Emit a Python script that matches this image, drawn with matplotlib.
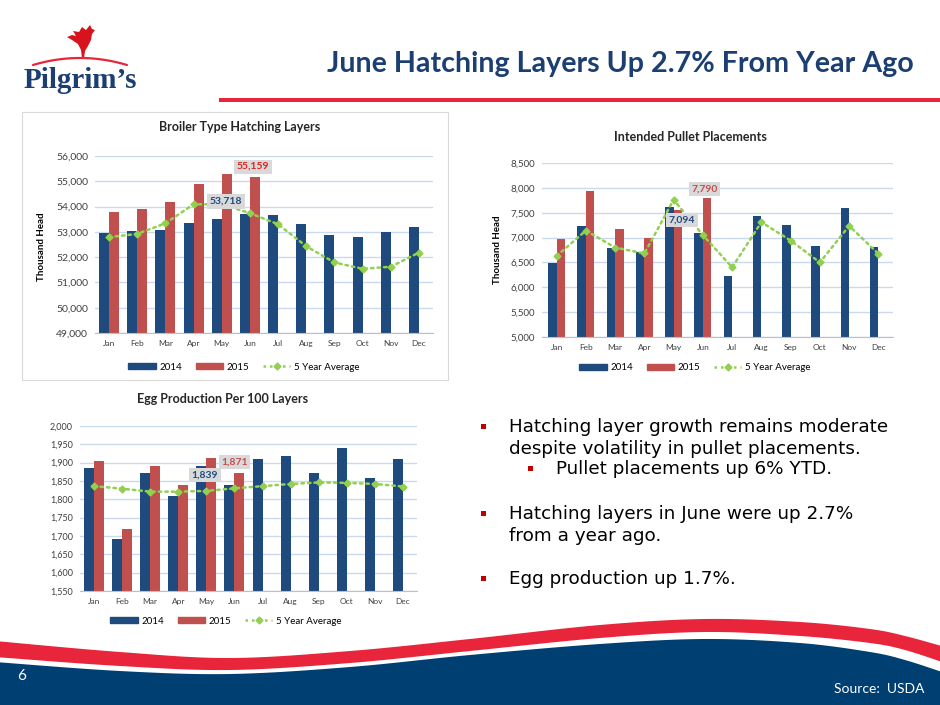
import numpy as np
import matplotlib
matplotlib.use('Agg')
import matplotlib.pyplot as plt
from matplotlib.patches import Polygon, Rectangle, Patch
from matplotlib.lines import Line2D

# ---------------- data ----------------
months = ['Jan', 'Feb', 'Mar', 'Apr', 'May', 'Jun', 'Jul', 'Aug', 'Sep', 'Oct', 'Nov', 'Dec']

broiler_2014 = [52950, 53050, 53070, 53370, 53500, 53718, 53670, 53330, 52870, 52800, 52990, 53180]
broiler_2015 = [53790, 53910, 54170, 54890, 55290, 55159]
broiler_avg = [52790, 52920, 53340, 54090, 54090, 53740, 53300, 52430, 51790, 51540, 51620, 52180]

pullet_2014 = [6480, 7240, 6790, 6710, 7610, 7094, 6225, 7440, 7260, 6840, 7600, 6810]
pullet_2015 = [6970, 7930, 7180, 6990, 7545, 7790]
pullet_avg = [6630, 7140, 6800, 6680, 7760, 7050, 6400, 7310, 6940, 6500, 7235, 6675]

egg_2014 = [1885, 1692, 1873, 1810, 1891, 1839, 1911, 1919, 1872, 1939, 1859, 1909]
egg_2015 = [1904, 1718, 1890, 1838, 1913, 1871]
egg_avg = [1836, 1829, 1821, 1821, 1823, 1830, 1836, 1842, 1846, 1845, 1842, 1835]

series_names = ['2014', '2015', '5 Year Average']

slide_title = 'June Hatching Layers Up 2.7% From Year Ago'
bullets = [
    (0, 'Hatching layer growth remains moderate\ndespite volatility in pullet placements.'),
    (1, 'Pullet placements up 6% YTD.'),
    (0, 'Hatching layers in June were up 2.7%\nfrom a year ago.'),
    (0, 'Egg production up 1.7%.'),
]

# ---------------- style ----------------
W, H = 940, 705
C14 = '#1F4A7E'
C15 = '#C0504D'
CAVG = '#92D050'
GRID = '#C9DAF0'
NAVY = '#1B3F73'
RED = '#E8253A'
BLUE_BAND = '#003F72'
CHART_FONT = ['Lato', 'DejaVu Sans']

fig = plt.figure(figsize=(W / 100, H / 100), dpi=100)
fig.patch.set_facecolor('white')


def fx(x):
    return x / W


def fy(y):
    return 1 - y / H


# background / decoration axes in pixel coords
bg = fig.add_axes([0, 0, 1, 1], zorder=0)
bg.set_xlim(0, W)
bg.set_ylim(H, 0)
bg.axis('off')


def smooth(knots, n=400):
    k = np.array(knots, dtype=float)
    xs = np.linspace(k[0, 0], k[-1, 0], n)
    pts = np.vstack([k[0], k, k[-1]])
    out_x, out_y = [], []
    for i in range(1, len(pts) - 2):
        p0, p1, p2, p3 = pts[i - 1], pts[i], pts[i + 1], pts[i + 2]
        t = np.linspace(0, 1, 30, endpoint=False)
        t2, t3 = t * t, t * t * t
        c = 0.5 * ((2 * p1)[:, None] + (-p0 + p2)[:, None] * t +
                   (2 * p0 - 5 * p1 + 4 * p2 - p3)[:, None] * t2 +
                   (-p0 + 3 * p1 - 3 * p2 + p3)[:, None] * t3)
        out_x.extend(c[0]); out_y.extend(c[1])
    out_x.append(k[-1, 0]); out_y.append(k[-1, 1])
    return np.interp(xs, out_x, out_y), xs


red_top = [(-5, 641), (120, 652), (230, 658), (350, 651), (470, 639), (600, 625), (705, 619),
           (800, 622), (870, 629), (905, 636), (945, 647)]
red_bot = [(-5, 657), (120, 666), (230, 670), (350, 663), (470, 651), (600, 638), (705, 632),
           (800, 636), (870, 643), (905, 650), (945, 663)]
blue_top = [(-5, 662), (120, 671), (230, 674), (350, 667), (470, 655), (600, 644), (705, 639),
            (800, 643), (870, 652), (905, 660), (945, 673)]

yt, xs = smooth(red_top)
yb, _ = smooth(red_bot)
bg.fill_between(xs, yt, yb, color=RED, lw=0)
ybl, _ = smooth(blue_top)
bg.fill_between(xs, ybl, H + 5, color=BLUE_BAND, lw=0)

# title + underline
fig.text(fx(914), fy(64), slide_title, ha='right', va='center', fontsize=20.6, fontweight='bold',
         color=NAVY, family=CHART_FONT)
bg.add_patch(Rectangle((219, 98), W - 219, 4, color=RED, lw=0))

# logo
fig.text(fx(80), fy(80), "Pilgrim\u2019s", ha='center', va='center', fontsize=21, fontweight='bold',
         color=NAVY, family=['Liberation Serif', 'DejaVu Serif'])
th = np.linspace(0, 1, 50)
bg.plot(33 + 94 * th, 65 - 28 * th * (1 - th), color=RED, lw=1.6, solid_capstyle='round')
rooster = [(82, 58), (81, 50), (78, 44), (72, 40), (67, 37), (72, 35), (76, 36), (73, 31),
           (79, 32), (82, 27), (86, 30), (90, 25), (92, 29), (95, 30), (92, 34), (91, 40),
           (88, 46), (85, 51), (84, 58)]
bg.add_patch(Polygon(rooster, closed=True, color='#D7141E', lw=0))

# footer text
fig.text(fx(17), fy(676), '6', ha='left', va='center', fontsize=11, color='white', family=CHART_FONT)
fig.text(fx(924), fy(689), 'Source:  USDA', ha='right', va='center', fontsize=10, color='white',
         family=CHART_FONT)

# bullets
y_lines = [426, 468, 513, 578]
for (lvl, txt), yy in zip(bullets, y_lines):
    bx = 483 if lvl == 0 else 530
    tx = 509 if lvl == 0 else 556
    bg.add_patch(Rectangle((bx - 2.5, yy - 2.5), 5, 5, color='#C00000', lw=0))
    fig.text(fx(tx), fy(yy - 8), txt, ha='left', va='top', fontsize=13.2, color='black',
             family='DejaVu Sans', linespacing=1.28)

# chart 1 frame
bg.add_patch(Rectangle((22, 112), 426, 268, fill=False, ec='#D9D9D9', lw=0.8))


def draw_chart(rect, title, title_xy, v14, v15, vavg, ylim, ystep, width, ylabel_xy,
               labels, legend_xy, ytick_fs):
    l, t, r, b = rect
    ax = fig.add_axes([fx(l), fy(b), fx(r - l), (b - t) / H], zorder=2)
    ax.set_facecolor('none')
    x = np.arange(len(months))
    ax.bar(x[:len(v14)] - width / 2, v14, width, color=C14, zorder=2, label=series_names[0])
    ax.bar(x[:len(v15)] + width / 2, v15, width, color=C15, zorder=2, label=series_names[1])
    ax.plot(x, vavg, color=CAVG, lw=1.8, ls=(0, (1, 1.6)), dash_capstyle='round',
            marker='D', ms=3.5, mfc=CAVG, mec=CAVG, zorder=3)
    ax.set_xlim(-0.5, len(months) - 0.5)
    ax.set_ylim(*ylim)
    ax.set_yticks(np.arange(ylim[0], ylim[1] + 1, ystep))
    ax.set_yticklabels([f'{v:,.0f}' for v in np.arange(ylim[0], ylim[1] + 1, ystep)],
                       fontsize=ytick_fs, color='#404040', family=CHART_FONT)
    ax.set_xticks(x)
    ax.set_xticklabels(months, fontsize=6, color='#404040', family=CHART_FONT)
    ax.tick_params(length=0, pad=5)
    ax.yaxis.grid(True, color=GRID, lw=1.0, zorder=0)
    ax.set_axisbelow(True)
    for s in ['top', 'right', 'left']:
        ax.spines[s].set_visible(False)
    ax.spines['bottom'].set_color('#BFBFBF')
    ax.spines['bottom'].set_zorder(4)
    fig.text(fx(title_xy[0]), fy(title_xy[1]), title, ha='center', va='center', fontsize=9,
             fontweight='bold', color='#262626', family=CHART_FONT)
    if ylabel_xy is not None:
        fig.text(fx(ylabel_xy[0]), fy(ylabel_xy[1]), 'Thousand Head', rotation=90, ha='center',
                 va='center', fontsize=7, fontweight='bold', color='black', family=CHART_FONT)
    for (lx, ly, val, col) in labels:
        ax.text(lx, ly, f'{val:,}', ha='center', va='center', fontsize=7.5, fontweight='bold',
                color=col, family=CHART_FONT, zorder=5,
                bbox=dict(boxstyle='square,pad=0.25', fc='#D9D9D9', ec='none'))
    handles = [Patch(color=C14), Patch(color=C15),
               Line2D([], [], color=CAVG, lw=1.8, ls=(0, (1, 1.6)), marker='D', ms=3.5)]
    fig.legend(handles, series_names, loc='center', bbox_to_anchor=(fx(legend_xy[0]), fy(legend_xy[1])),
               ncol=3, frameon=False, handlelength=2.8, handleheight=0.55,
               handletextpad=0.4, columnspacing=1.4, numpoints=1,
               prop={'family': CHART_FONT, 'size': 7})
    return ax


draw_chart((95, 156, 433, 333), 'Broiler Type Hatching Layers', (240, 127),
           broiler_2014, broiler_2015, broiler_avg, (49000, 56000), 1000, 0.355, (42, 247),
           [(4.15, 54200, broiler_2014[5], C14), (5.1, 55580, broiler_2015[5], '#E0201B')],
           (244, 367), 7.5)

draw_chart((542, 163, 893, 337), 'Intended Pullet Placements', (690, 137),
           pullet_2014, pullet_2015, pullet_avg, (5000, 8500), 500, 0.29, (497, 250),
           [(4.29, 7355, pullet_2014[5], C14), (5.05, 7980, pullet_2015[5], C15)],
           (695, 368), 7)

draw_chart((80, 426, 417, 591), 'Egg Production Per 100 Layers', (223, 399),
           egg_2014, egg_2015, egg_avg, (1550, 2000), 50, 0.355, None,
           [(3.95, 1867, egg_2014[5], C14), (5.0, 1901, egg_2015[5], C15)],
           (226, 621), 6.5)

fig.savefig('out.png', dpi=100, facecolor='white')
